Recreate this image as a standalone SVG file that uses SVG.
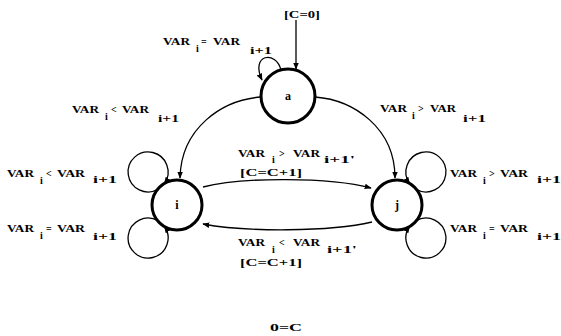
<svg xmlns="http://www.w3.org/2000/svg" width="561" height="336" viewBox="0 0 561 336">
<style>
text{font-family:"Liberation Serif","DejaVu Serif",serif;font-weight:bold;font-size:10px;fill:#000}
.node{fill:#fff;stroke:#000;stroke-width:3}
.edge{fill:none;stroke:#000;stroke-width:1.3}
.nl{font-size:12px;text-anchor:middle}
</style>
<defs>
<marker id="ah" viewBox="0 0 10 10" refX="9" refY="5" markerWidth="7" markerHeight="7" markerUnits="userSpaceOnUse" orient="auto">
<path d="M0,1 L10,5 L0,9 Z" fill="#000"/>
</marker>
</defs>
<rect width="561" height="336" fill="#fff"/>
<g id="connectors">
<path class="edge" d="M296,20 L296,69" marker-end="url(#ah)"/>
<path class="edge" d="M281,70 C276,50 250,54 262,80" marker-end="url(#ah)"/>
<path class="edge" d="M261,97 C222,100 181,128 180,178" marker-end="url(#ah)"/>
<path class="edge" d="M315,97 C354,100 395,128 395,178" marker-end="url(#ah)"/>
<path class="edge" d="M158,189.3 A20,20 0 1 1 164.4,183.5" marker-end="url(#ah)"/>
<path class="edge" d="M158,220.7 A20,20 0 1 0 164.4,226.5" marker-end="url(#ah)"/>
<path class="edge" d="M416,189.3 A20,20 0 1 0 409.6,183.5" marker-end="url(#ah)"/>
<path class="edge" d="M416,220.7 A20,20 0 1 1 409.6,226.5" marker-end="url(#ah)"/>
<path class="edge" d="M203,187 C240,177 330,177 371,188" marker-end="url(#ah)"/>
<path class="edge" d="M372,222 C330,232 245,232 203,224" marker-end="url(#ah)"/>
</g>
<g id="node-a"><circle class="node" cx="288" cy="96" r="27"/><text class="nl" x="288" y="100">a</text></g>
<g id="node-i"><circle class="node" cx="177" cy="205" r="25"/><text class="nl" x="177" y="209">i</text></g>
<g id="node-j"><circle class="node" cx="397" cy="205" r="25"/><text class="nl" x="397" y="209">j</text></g>
<g id="labels">
<text x="284" y="18" textLength="36" lengthAdjust="spacingAndGlyphs">[C=0]</text>
<g><text x="163" y="45" textLength="27" lengthAdjust="spacingAndGlyphs">VAR</text><text x="196" y="52">i</text><text x="201" y="45">=</text><text x="213" y="45" textLength="27" lengthAdjust="spacingAndGlyphs">VAR</text><text x="250" y="54" textLength="22" lengthAdjust="spacingAndGlyphs">i+1</text></g>
<g><text x="72" y="113" textLength="27" lengthAdjust="spacingAndGlyphs">VAR</text><text x="105" y="120">i</text><text x="111" y="113">&lt;</text><text x="122" y="113" textLength="27" lengthAdjust="spacingAndGlyphs">VAR</text><text x="158" y="122" textLength="21" lengthAdjust="spacingAndGlyphs">i+1</text></g>
<g><text x="380" y="112" textLength="27" lengthAdjust="spacingAndGlyphs">VAR</text><text x="412" y="119">i</text><text x="418" y="112">&gt;</text><text x="430" y="112" textLength="26" lengthAdjust="spacingAndGlyphs">VAR</text><text x="463" y="122" textLength="23" lengthAdjust="spacingAndGlyphs">i+1</text></g>
<g><text x="7" y="177" textLength="27" lengthAdjust="spacingAndGlyphs">VAR</text><text x="40" y="184">i</text><text x="46" y="177">&lt;</text><text x="57" y="177" textLength="28" lengthAdjust="spacingAndGlyphs">VAR</text><text x="93" y="183" textLength="24" lengthAdjust="spacingAndGlyphs">i+1</text></g>
<g><text x="7" y="232" textLength="27" lengthAdjust="spacingAndGlyphs">VAR</text><text x="40" y="239">i</text><text x="46" y="232">=</text><text x="57" y="232" textLength="28" lengthAdjust="spacingAndGlyphs">VAR</text><text x="93" y="240" textLength="24" lengthAdjust="spacingAndGlyphs">i+1</text></g>
<g><text x="450" y="177" textLength="27" lengthAdjust="spacingAndGlyphs">VAR</text><text x="483" y="184">i</text><text x="489" y="177">&gt;</text><text x="500" y="177" textLength="28" lengthAdjust="spacingAndGlyphs">VAR</text><text x="537" y="183" textLength="24" lengthAdjust="spacingAndGlyphs">i+1</text></g>
<g><text x="450" y="232" textLength="27" lengthAdjust="spacingAndGlyphs">VAR</text><text x="483" y="239">i</text><text x="489" y="232">=</text><text x="500" y="232" textLength="28" lengthAdjust="spacingAndGlyphs">VAR</text><text x="537" y="240" textLength="24" lengthAdjust="spacingAndGlyphs">i+1</text></g>
<g><text x="238" y="157" textLength="27" lengthAdjust="spacingAndGlyphs">VAR</text><text x="272" y="163">i</text><text x="279" y="157">&gt;</text><text x="293" y="157" textLength="27" lengthAdjust="spacingAndGlyphs">VAR</text><text x="324" y="163" textLength="31" lengthAdjust="spacingAndGlyphs">i+1'</text><text x="240" y="176" textLength="62" lengthAdjust="spacingAndGlyphs">[C=C+1]</text></g>
<g><text x="238" y="246" textLength="27" lengthAdjust="spacingAndGlyphs">VAR</text><text x="272" y="253">i</text><text x="279" y="246">&lt;</text><text x="293" y="246" textLength="27" lengthAdjust="spacingAndGlyphs">VAR</text><text x="327" y="253" textLength="30" lengthAdjust="spacingAndGlyphs">i+1'</text><text x="240" y="266" textLength="62" lengthAdjust="spacingAndGlyphs">[C=C+1]</text></g>
<text x="270" y="331" textLength="32" lengthAdjust="spacingAndGlyphs">0=C</text>
</g>
</svg>
